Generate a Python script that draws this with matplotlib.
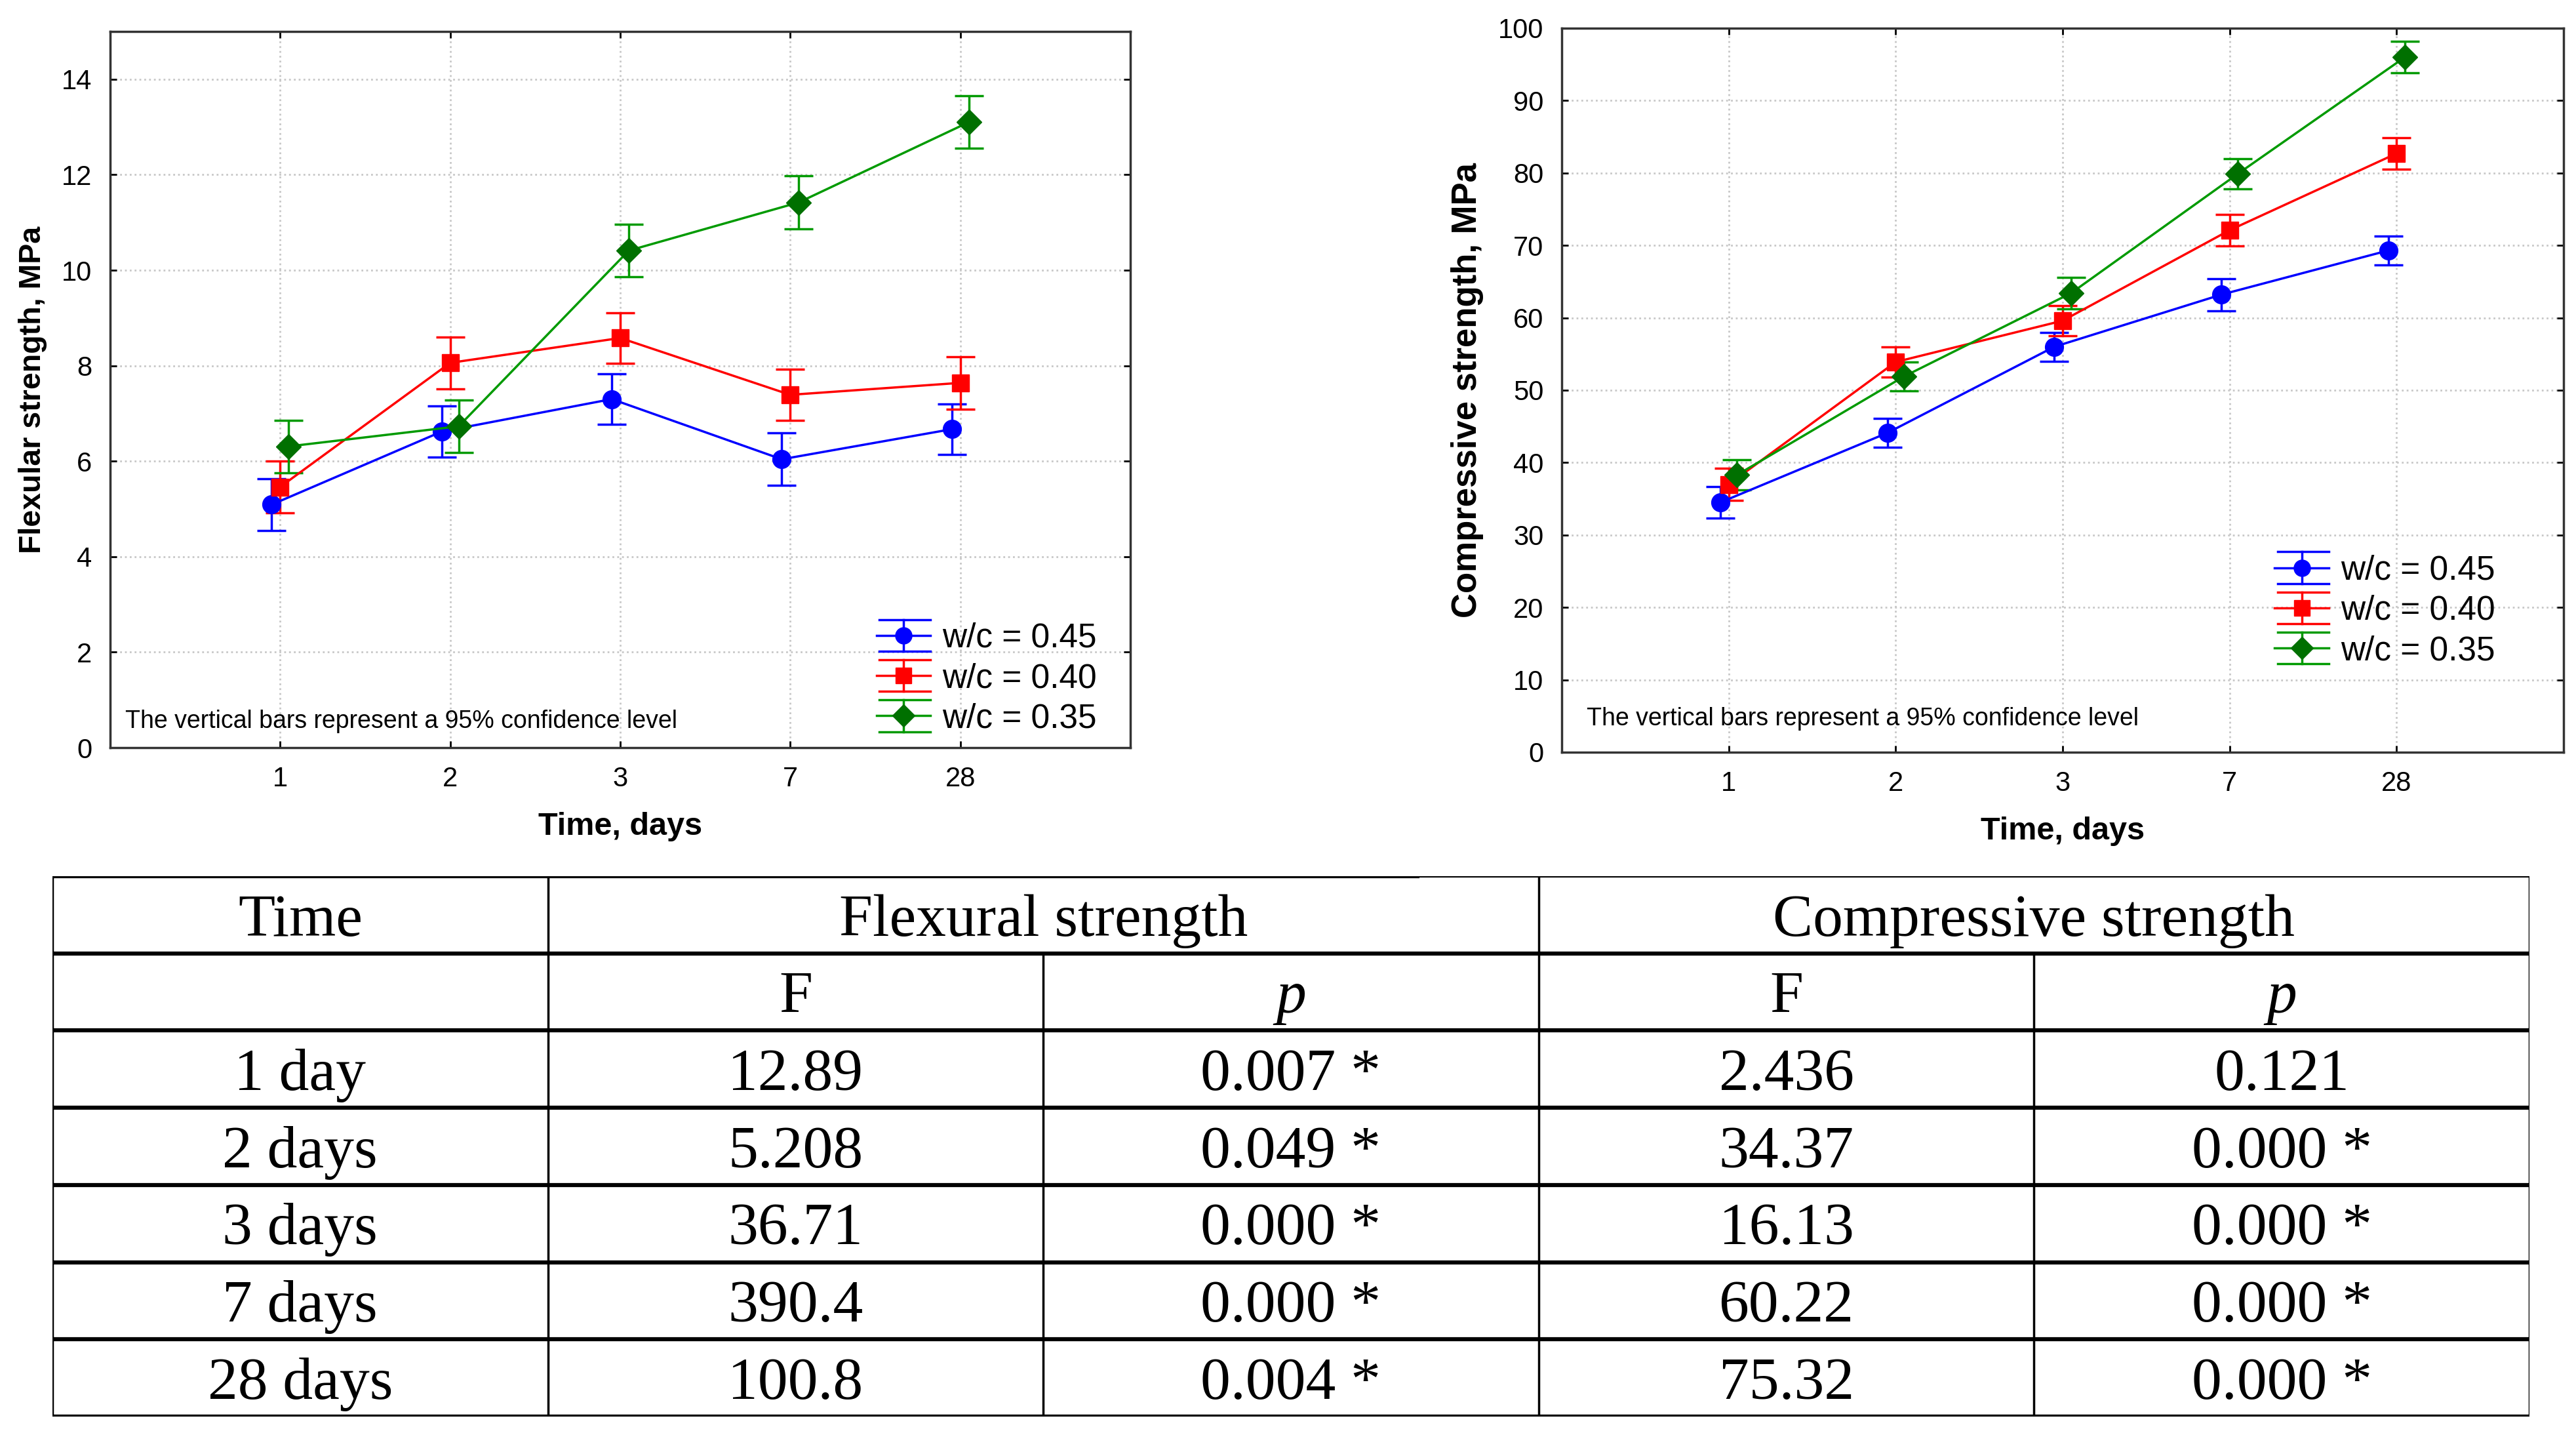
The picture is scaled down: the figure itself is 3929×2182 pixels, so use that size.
import matplotlib
matplotlib.use("Agg")
import matplotlib.pyplot as plt
from matplotlib import font_manager
from matplotlib.container import ErrorbarContainer
from matplotlib.legend_handler import HandlerBase
from matplotlib.lines import Line2D

# data
days = ['1', '2', '3', '7', '28']
labels = ['w/c = 0.45', 'w/c = 0.40', 'w/c = 0.35']

flex_045 = [5.09, 6.62, 7.30, 6.04, 6.67]
flex_045_ci = [0.54, 0.54, 0.53, 0.55, 0.53]
flex_040 = [5.46, 8.06, 8.58, 7.39, 7.64]
flex_040_ci = [0.54, 0.54, 0.53, 0.54, 0.55]
flex_035 = [6.31, 6.73, 10.41, 11.42, 13.10]
flex_035_ci = [0.55, 0.55, 0.55, 0.56, 0.55]

comp_045 = [34.5, 44.1, 56.0, 63.2, 69.3]
comp_045_ci = [2.2, 2.0, 2.0, 2.2, 2.0]
comp_040 = [37.0, 53.9, 59.6, 72.1, 82.7]
comp_040_ci = [2.2, 2.1, 2.1, 2.2, 2.2]
comp_035 = [38.3, 51.9, 63.4, 79.9, 96.0]
comp_035_ci = [2.1, 2.0, 2.2, 2.1, 2.2]

time_labels = ['1 day', '2 days', '3 days', '7 days', '28 days']
flex_F = ['12.89', '5.208', '36.71', '390.4', '100.8']
flex_p = ['0.007 *', '0.049 *', '0.000 *', '0.000 *', '0.004 *']
comp_F = ['2.436', '34.37', '16.13', '60.22', '75.32']
comp_p = ['0.121', '0.000 *', '0.000 *', '0.000 *', '0.000 *']

installed = {f.name for f in font_manager.fontManager.ttflist}
SANS = 'Liberation Sans Narrow' if 'Liberation Sans Narrow' in installed else 'Liberation Sans'
SERIF = 'Liberation Serif'

line_colors = ['#0000ff', '#ff0000', '#009a00']
face_colors = ['#0000ff', '#ff0000', '#007000']
markers = ['o', 's', 'D']
msizes = [20, 19, 19]
offsets = [-0.05, 0.0, 0.05]


class StatisticaErrHandler(HandlerBase):
    # legend key like Statistica: line + marker, with full-width caps above and below
    def create_artists(self, legend, orig_handle, xdescent, ydescent, width, height,
                       fontsize, trans):
        data_line = orig_handle.lines[0]
        col = data_line.get_color()
        x0, x1 = -xdescent, -xdescent + width
        xm = (x0 + x1) / 2
        ym = -ydescent + height / 2
        half = 0.47 * fontsize
        arts = [Line2D([x0, x1], [ym, ym], color=col, lw=2.5),
                Line2D([x0 + 0.05 * width, x1], [ym + half, ym + half], color=col, lw=2.5),
                Line2D([x0 + 0.05 * width, x1], [ym - half, ym - half], color=col, lw=2.5),
                Line2D([xm, xm], [ym - half, ym + half], color=col, lw=2.5),
                Line2D([xm], [ym], marker=data_line.get_marker(),
                       ms=data_line.get_markersize() * 0.9,
                       mfc=data_line.get_markerfacecolor(),
                       mec=data_line.get_markeredgecolor(), ls='none')]
        for a in arts:
            a.set_transform(trans)
        return arts


fig = plt.figure(figsize=(39.3, 21.82), dpi=100)


def strength_plot(ax, series, cis, ylim, yticks, ylabel, ylabel_size, leg_anchor, note_xy):
    x = list(range(1, len(days) + 1))
    handles = []
    for i, (vals, ci) in enumerate(zip(series, cis)):
        xs = [v + offsets[i] for v in x]
        handles.append(ax.errorbar(xs, vals, yerr=ci, capsize=16, zorder=3,
                                   color=line_colors[i], lw=2.5, marker=markers[i],
                                   ms=msizes[i], mfc=face_colors[i], mec=face_colors[i],
                                   ecolor=line_colors[i], elinewidth=2.5, capthick=2.5,
                                   label=labels[i]))
    ax.set_xlim(0, len(days) + 1)
    ax.set_ylim(*ylim)
    ax.set_xticks(x)
    ax.set_xticklabels(days)
    ax.set_yticks(yticks)
    ax.grid(True, color='#c8c8c8', linestyle=':', lw=2)
    ax.tick_params(direction='in', length=7, width=2, top=True, right=True,
                   labelsize=30, pad=20)
    for sp in ax.spines.values():
        sp.set_linewidth(2.5)
        sp.set_color('#333333')
    for lab in ax.get_xticklabels() + ax.get_yticklabels():
        lab.set_family(SANS)
    ax.set_xlabel('Time, days', fontsize=35, fontweight='bold', family=SANS,
                  labelpad=22)
    ax.set_ylabel(ylabel, fontsize=ylabel_size, fontweight='bold', family='Liberation Sans',
                  labelpad=16)
    ax.text(note_xy[0], note_xy[1], 'The vertical bars represent a 95% confidence level',
            transform=ax.transAxes, fontsize=27, family=SANS, va='bottom')
    ax.legend(handles=handles, loc='lower right', bbox_to_anchor=leg_anchor, frameon=False,
              prop={'family': 'Liberation Sans', 'size': 37}, handlelength=1.6,
              labelspacing=0.24, handletextpad=0.35, borderaxespad=0.3,
              handler_map={ErrorbarContainer: StatisticaErrHandler()})


ax1 = fig.add_axes([168 / 3930, 1 - 1140 / 2182, 1556 / 3930, 1092 / 2182])
strength_plot(ax1, [flex_045, flex_040, flex_035], [flex_045_ci, flex_040_ci, flex_035_ci],
              (0, 15), range(0, 15, 2), 'Flexular strength, MPa', 33.5,
              (0.99, -0.015), (0.015, 0.02))

ax2 = fig.add_axes([2382 / 3930, 1 - 1147 / 2182, 1528 / 3930, 1104 / 2182])
strength_plot(ax2, [comp_045, comp_040, comp_035], [comp_045_ci, comp_040_ci, comp_035_ci],
              (0, 100), range(0, 101, 10), 'Compressive strength, MPa', 38,
              (0.955, 0.085), (0.025, 0.03))

# table
ax_t = fig.add_axes([80 / 3930, 1 - 2160 / 2182, 3778 / 3930, 824 / 2182])
ax_t.set_xlim(0, 5)
ax_t.set_ylim(7, 0)
ax_t.axis('off')

n_rows = 2 + len(time_labels)
ax_t.hlines(0, 0, 2.76, color='black', lw=4.5)
ax_t.hlines(0, 2.76, 5, color='black', lw=3)
ax_t.hlines(range(1, n_rows + 1), 0, 5, color='black', lw=4.5)
ax_t.vlines([0, 1, 3, 5], 0, n_rows, color='black', lw=2.5)
ax_t.vlines([2, 4], 1, n_rows, color='black', lw=2.5)

tkw = dict(ha='center', va='center', fontsize=66, family=SERIF)
dy = 0.58
ax_t.text(0.5, dy, 'Time', **tkw)
ax_t.text(2, dy, 'Flexural strength', **tkw)
ax_t.text(4, dy, 'Compressive strength', **tkw)
ax_t.text(1.5, 1 + dy, 'F', **tkw)
ax_t.text(2.5, 1 + dy, 'p', style='italic', **tkw)
ax_t.text(3.5, 1 + dy, 'F', **tkw)
ax_t.text(4.5, 1 + dy, 'p', style='italic', **tkw)
for r, row in enumerate(zip(time_labels, flex_F, flex_p, comp_F, comp_p)):
    for c, val in enumerate(row):
        ax_t.text(c + 0.5, r + 2 + dy, val, **tkw)

fig.savefig('out.png', dpi=100)
